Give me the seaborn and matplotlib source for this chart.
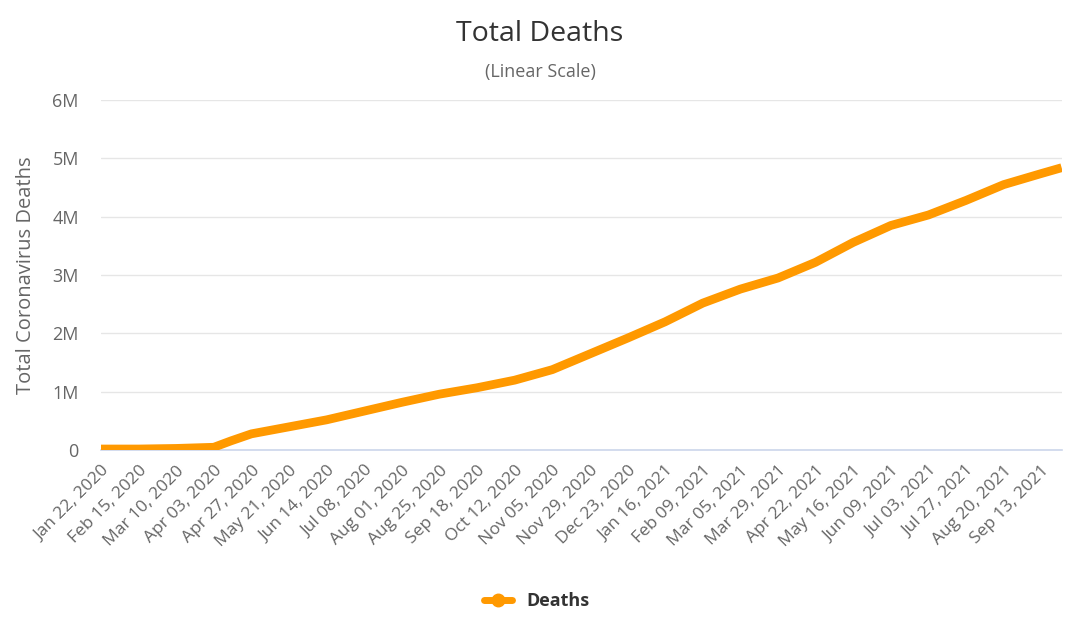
import pandas as pd
import matplotlib.pyplot as plt
from matplotlib.lines import Line2D
import seaborn as sns

# values (total deaths, in millions)
dates = ["2020-01-22", "2020-02-15", "2020-03-10", "2020-04-03", "2020-04-14",
         "2020-04-27", "2020-05-21", "2020-06-14", "2020-07-08", "2020-08-01",
         "2020-08-25", "2020-09-18", "2020-10-12", "2020-11-05", "2020-11-29",
         "2020-12-23", "2021-01-16", "2021-02-09", "2021-03-05", "2021-03-29",
         "2021-04-22", "2021-05-16", "2021-06-09", "2021-07-03", "2021-07-27",
         "2021-08-20", "2021-09-13", "2021-09-26"]
deaths_m = [0.02, 0.02, 0.03, 0.05, 0.16,
            0.28, 0.40, 0.52, 0.67, 0.82,
            0.96, 1.07, 1.20, 1.38, 1.65,
            1.92, 2.20, 2.52, 2.76, 2.95,
            3.22, 3.56, 3.85, 4.03, 4.28,
            4.55, 4.74, 4.84]
y_ticks = [0, 1e6, 2e6, 3e6, 4e6, 5e6, 6e6]
y_labels = ["0", "1M", "2M", "3M", "4M", "5M", "6M"]

df = pd.DataFrame({"date": pd.to_datetime(dates),
                   "deaths": [v * 1e6 for v in deaths_m]})
tick_dates = pd.date_range("2020-01-22", periods=26, freq="24D")

sns.set_style("white")
plt.rcParams["font.family"] = ["Open Sans", "DejaVu Sans"]

fig = plt.figure(figsize=(10.8, 6.27), dpi=100)
ax = fig.add_axes([0.0935, 0.282, 0.8895, 0.5585])

sns.lineplot(data=df, x="date", y="deaths", color="#FF9900", linewidth=6.3,
             solid_capstyle="butt", solid_joinstyle="round", ax=ax, zorder=3)

ax.set_ylim(0, 6e6)
ax.set_xlim(df["date"].iloc[0], df["date"].iloc[-1])
ax.set_yticks(y_ticks)
ax.set_yticklabels(y_labels)
ax.set_xticks(tick_dates)
ax.set_xticklabels([d.strftime("%b %d, %Y") for d in tick_dates],
                   rotation=45, ha="right", rotation_mode="anchor")
ax.tick_params(axis="y", length=0, labelsize=13, labelcolor="#666666", pad=16)
ax.tick_params(axis="x", length=0, labelsize=12.5, labelcolor="#666666", pad=9)
ax.grid(axis="y", color="#e6e6e6", linewidth=1)
ax.set_axisbelow(True)
for s in ["top", "right", "left"]:
    ax.spines[s].set_visible(False)
ax.spines["bottom"].set_color("#ccd6eb")
ax.spines["bottom"].set_linewidth(1.2)
ax.set_xlabel("")
ax.set_ylabel("Total Coronavirus Deaths", fontsize=14.5, color="#666666", labelpad=12)

fig.text(0.5, 0.945, "Total Deaths", ha="center", va="center",
         fontsize=20.5, color="#333333")
fig.text(0.5, 0.885, "(Linear Scale)", ha="center", va="center",
         fontsize=13, color="#666666")

handle = Line2D([], [], color="#FF9900", linewidth=5, marker="o", markersize=9)
leg = fig.legend([handle], ["Deaths"], loc="center", bbox_to_anchor=(0.497, 0.041),
                 frameon=False, handlelength=1.6, prop={"size": 13, "weight": "bold"})
for t in leg.get_texts():
    t.set_color("#333333")

fig.savefig("out.png", dpi=100)
